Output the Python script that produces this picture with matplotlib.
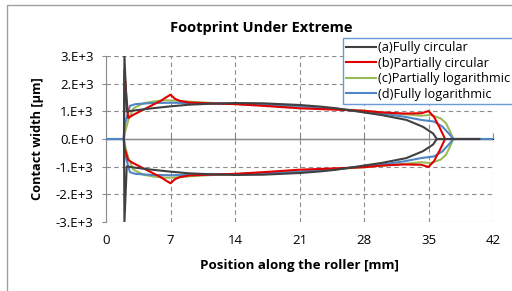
import matplotlib
matplotlib.use("Agg")
import matplotlib.pyplot as plt
from matplotlib.patches import Rectangle

plt.rcParams['font.family'] = ['Open Sans', 'DejaVu Sans']

# half widths of the footprint [um] along the roller [mm]
a_x = [1.95, 2.0, 2.25, 3, 4, 5, 7, 9, 11, 14, 17, 21, 23.3, 25, 28, 30, 32.6, 34.4, 35.5, 35.9, 40.5]
a_w = [0, 3000, 990, 1030, 1070, 1110, 1180, 1240, 1270, 1300, 1290, 1230, 1170, 1110, 960, 860, 690, 440, 200, 0, 0]

b_x = [1.95, 2.0, 2.4, 3, 4, 5, 6, 6.5, 7, 7.5, 8, 9, 11, 14, 17, 21, 25, 28, 30, 32.3, 34.2, 35, 35.6, 36.2, 36.8]
b_up = [0, 2500, 760, 880, 1050, 1220, 1390, 1500, 1600, 1450, 1380, 1320, 1290, 1260, 1200, 1110, 1060, 1020, 960, 920, 930, 1010, 800, 420, 0]
b_lo = [0, -300, -760, -880, -1050, -1220, -1390, -1500, -1600, -1450, -1380, -1320, -1290, -1260, -1200, -1110, -1060, -1020, -960, -920, -930, -1010, -800, -420, 0]

c_x = [1.95, 2.1, 2.43, 2.97, 4.06, 5, 6.4, 7.5, 9, 11, 14, 17, 21, 25, 28, 30, 32.3, 34.2, 35.2, 36.3, 36.9, 37.3, 37.7]
c_w = [0, 300, 690, 1110, 1290, 1350, 1400, 1390, 1350, 1310, 1270, 1240, 1180, 1090, 1020, 960, 900, 840, 870, 750, 570, 300, 0]

d_x = [0, 1.9, 2.07, 2.6, 3.2, 5, 7, 9, 11, 14, 17, 21, 25, 28, 30, 32.3, 34.2, 35.6, 36.5, 37.2, 37.7, 42]
d_w = [0, 0, 570, 1200, 1260, 1300, 1310, 1300, 1290, 1270, 1240, 1190, 1090, 990, 920, 810, 690, 630, 450, 200, 0, 0]

labels = ['(a)Fully circular', '(b)Partially circular', '(c)Partially logarithmic', '(d)Fully logarithmic']
colors = ['#404040', '#E00000', '#9BBB59', '#4F86C6']

x_ticks = [0, 7, 14, 21, 28, 35, 42]
y_ticks = [3000, 2000, 1000, 0, -1000, -2000, -3000]
y_tick_labels = ['3.E+3', '2.E+3', '1.E+3', '0.E+0', '-1.E+3', '-2.E+3', '-3.E+3']

fig = plt.figure(figsize=(5.12, 2.91), dpi=100)
ax = fig.add_axes([106 / 512, 1 - 222 / 291, 387 / 512, 166 / 291])

grey = '#8C8C8C'
lw = 1.5
ax.plot(c_x, c_w, color=colors[2], lw=lw, zorder=3, label=labels[2])
ax.plot(c_x, [-v for v in c_w], color=colors[2], lw=lw, zorder=3)
ax.plot(d_x, d_w, color=colors[3], lw=lw, zorder=4, label=labels[3])
ax.plot(d_x, [-v for v in d_w], color=colors[3], lw=lw, zorder=4)
ax.plot(b_x, b_up, color=colors[1], lw=lw, zorder=5, label=labels[1])
ax.plot(b_x, b_lo, color=colors[1], lw=lw, zorder=5)
ax.plot(a_x, a_w, color=colors[0], lw=lw, zorder=6, label=labels[0])
ax.plot(a_x, [-v for v in a_w], color=colors[0], lw=lw, zorder=6)

ax.set_xlim(0, 42)
ax.set_ylim(-3000, 3000)
ax.set_xticks(x_ticks)
ax.set_yticks(y_ticks)
ax.set_yticklabels(y_tick_labels)
ax.grid(True, color=grey, lw=0.8, linestyle=(0, (4, 3)))
ax.yaxis.get_gridlines()[3].set_visible(False)
for s in ['top', 'right', 'bottom']:
    ax.spines[s].set_visible(False)
ax.spines['left'].set_color(grey)
ax.tick_params(axis='y', length=3, color=grey, pad=6, labelsize=9.5)
ax.tick_params(axis='x', length=0, pad=9, labelsize=9.5)

# axis line through zero with its tick marks
ax.axhline(0, color=grey, lw=1.0, zorder=2)
sec = ax.secondary_xaxis(0.5)
sec.set_xticks(x_ticks)
sec.set_xticklabels([])
sec.spines['bottom'].set_visible(False)
sec.tick_params(length=4, width=0.8, color=grey, direction='out')

h, l = ax.get_legend_handles_labels()
order = [3, 2, 0, 1]
leg = fig.legend([h[i] for i in order], [l[i] for i in order],
                 loc='upper left', bbox_to_anchor=(343 / 512, 1 - 38 / 291),
                 fontsize=9.2, frameon=True, fancybox=False, framealpha=1,
                 handlelength=2.3, handletextpad=0.2, labelspacing=0.2,
                 borderpad=0.25, borderaxespad=0)
leg.get_frame().set_edgecolor('#6A9BD8')
leg.get_frame().set_linewidth(1.0)

fig.text(261 / 512, 1 - 28 / 291, 'Footprint Under Extreme', ha='center', va='center',
         fontsize=10.5, fontweight='bold')
fig.text(299.5 / 512, 1 - 266 / 291, 'Position along the roller [mm]', ha='center', va='center',
         fontsize=9.6, fontweight='bold')
fig.text(37 / 512, 1 - 139 / 291, 'Contact width [µm]', ha='center', va='center',
         rotation=90, fontsize=9.2, fontweight='bold')

fig.patches.append(Rectangle((7 / 512, -0.1), 1.2, 1 - 5 / 291 + 0.1, transform=fig.transFigure,
                             fill=False, edgecolor='#A0A0A0', lw=1.0))

fig.savefig('out.png', dpi=100)
